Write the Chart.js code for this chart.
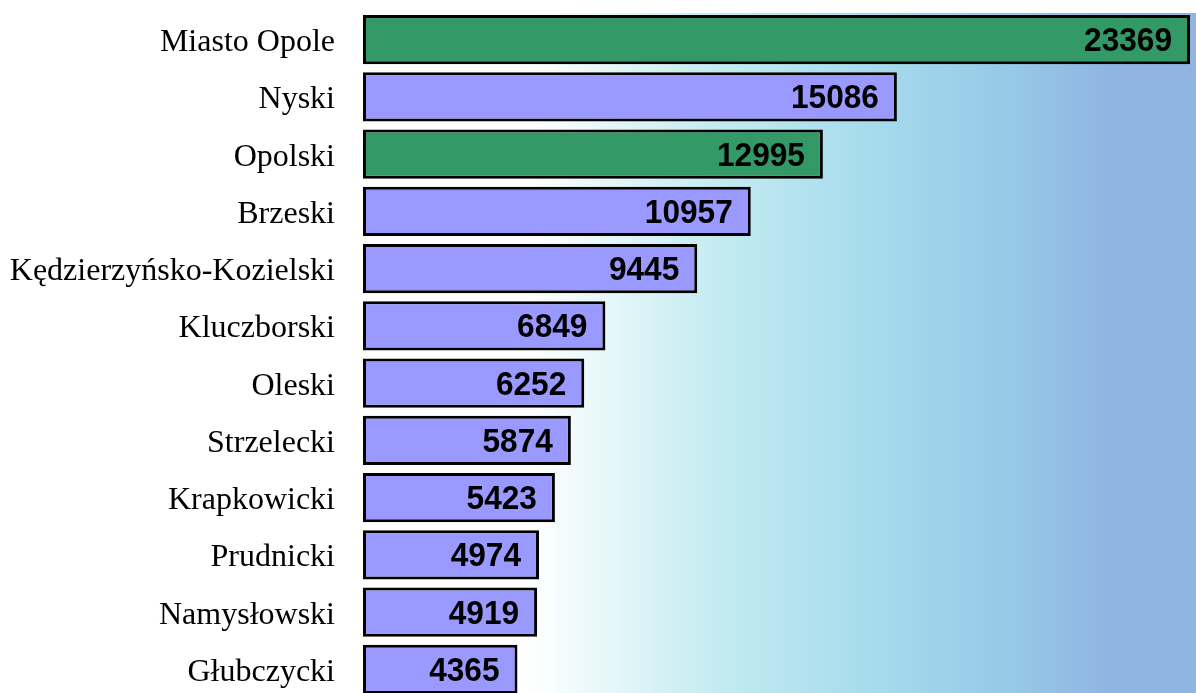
<!DOCTYPE html>
<html>
<head>
<meta charset="utf-8">
<script src="https://cdn.jsdelivr.net/npm/chart.js@4"></script>
<style>
html,body{margin:0;padding:0;background:#fff;overflow:hidden;}
#wrap{position:relative;width:1196px;height:698px;}
</style>
</head>
<body>
<div id="wrap"><canvas id="c"></canvas></div>
<script>
const categories = ["Miasto Opole","Nyski","Opolski","Brzeski","Kędzierzyńsko-Kozielski","Kluczborski","Oleski","Strzelecki","Krapkowicki","Prudnicki","Namysłowski","Głubczycki"];
const values = [23369,15086,12995,10957,9445,6849,6252,5874,5423,4974,4919,4365];
const barColors = ["#339966","#9999FF","#339966","#9999FF","#9999FF","#9999FF","#9999FF","#9999FF","#9999FF","#9999FF","#9999FF","#9999FF"];

const bgPlugin = {
  id:'bg',
  beforeDraw(chart){
    const {ctx, chartArea:a} = chart;
    const g = ctx.createLinearGradient(a.left,0,a.right,0);
    g.addColorStop(0,'#ffffff');
    g.addColorStop(0.2,'#ffffff');
    g.addColorStop(0.42,'#c4ecf1');
    g.addColorStop(0.6,'#a8dced');
    g.addColorStop(0.78,'#96c8e7');
    g.addColorStop(0.9,'#8fb4e2');
    g.addColorStop(1,'#8fb3e2');
    ctx.save();
    ctx.fillStyle = g;
    ctx.fillRect(a.left, a.top+2, a.right-a.left, a.bottom-a.top);
    ctx.restore();
  }
};
const valPlugin = {
  id:'vals',
  afterDatasetsDraw(chart){
    const {ctx} = chart;
    const meta = chart.getDatasetMeta(0);
    ctx.save();
    ctx.font = 'bold 34px "Liberation Sans", Arial, sans-serif';
    ctx.fillStyle = '#000';
    ctx.textAlign = 'right';
    ctx.textBaseline = 'middle';
    meta.data.forEach((bar,i)=>{
      ctx.save();
      ctx.translate(bar.x - 18, bar.y + 2);
      ctx.scale(0.93, 1);
      ctx.fillText(String(values[i]), 0, 0);
      ctx.restore();
    });
    ctx.restore();
  }
};

new Chart(document.getElementById('c'), {
  type:'bar',
  data:{labels:categories, datasets:[{data:values, backgroundColor:barColors, borderColor:'#000', borderWidth:3, borderSkipped:false, barPercentage:0.856, categoryPercentage:1}]},
  options:{
    indexAxis:'y',
    responsive:true, maintainAspectRatio:false, animation:false,
    layout:{padding:{top:11,left:0,right:0,bottom:0}},
    plugins:{legend:{display:false}, tooltip:{enabled:false}},
    scales:{
      x:{display:false, min:0, max:23538},
      y:{
        grid:{display:false, drawTicks:false}, border:{display:false},
        ticks:{color:'#000', padding:28, labelOffset:3, font:{family:'"Liberation Serif", "Times New Roman", serif', size:32}},
        afterFit(s){ s.width = 363; s.paddingTop = 0; s.paddingBottom = 0; }
      }
    }
  },
  plugins:[bgPlugin, valPlugin]
});
</script>
</body>
</html>
